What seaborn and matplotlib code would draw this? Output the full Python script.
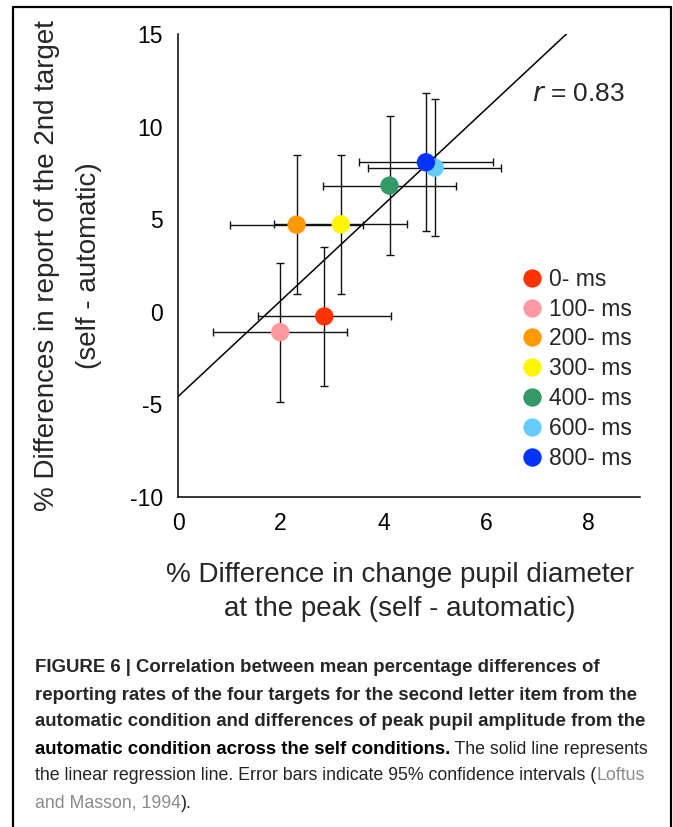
import numpy as np
import pandas as pd
import matplotlib.pyplot as plt
import seaborn as sns
from matplotlib.lines import Line2D

# values (self - automatic)
conditions = ['0- ms', '100- ms', '200- ms', '300- ms', '400- ms', '600- ms', '800- ms']
pupil_diff = [2.85, 1.99, 2.31, 3.17, 4.12, 5.00, 4.83]
report_diff = [-0.25, -1.10, 4.70, 4.72, 6.81, 7.78, 8.07]
pupil_ci = [1.30, 1.30, 1.30, 1.30, 1.30, 1.30, 1.30]
report_ci = [3.75, 3.75, 3.75, 3.75, 3.75, 3.70, 3.72]
colors = ['#FF3300', '#FF99A0', '#FF9900', '#FFF500', '#339966', '#66CCFF', '#0033FF']
r_reported = 0.83

data = pd.DataFrame({'condition': conditions, 'pupil': pupil_diff, 'report': report_diff,
                     'pupil_ci': pupil_ci, 'report_ci': report_ci})

sns.set_style('white')
plt.rcParams['font.family'] = ['Liberation Sans', 'DejaVu Sans']
plt.rcParams['axes.unicode_minus'] = False

fig = plt.figure(figsize=(6.73, 8.27), dpi=100)
ax = fig.add_axes([0.2645, 0.399, 0.6865, 0.5600])
ax.set_xlim(0, 9)
ax.set_ylim(-10, 15)

# regression line across the whole axis
sns.regplot(data=data, x='pupil', y='report', scatter=False, ci=None, truncate=False,
            line_kws={'color': 'black', 'lw': 1.1}, ax=ax)

# error bars
ax.errorbar(data['pupil'], data['report'], xerr=data['pupil_ci'], yerr=data['report_ci'],
            fmt='none', ecolor='#111111', elinewidth=1.0, capsize=3, capthick=1.0, zorder=3)

sns.scatterplot(data=data, x='pupil', y='report', hue='condition', palette=colors,
                s=175, edgecolor='none', linewidth=0, ax=ax, zorder=4, legend=True)

ax.set_xlim(0, 9)
ax.set_ylim(-10, 15)
ax.set_xticks([0, 2, 4, 6, 8])
ax.set_yticks([-10, -5, 0, 5, 10, 15])
ax.tick_params(direction='in', length=4, width=1, colors='black', labelsize=16.5)
ax.tick_params(axis='x', pad=11)
ax.tick_params(axis='y', pad=11)
for side in ['top', 'right']:
    ax.spines[side].set_visible(False)
for side in ['left', 'bottom']:
    ax.spines[side].set_color('black')
    ax.spines[side].set_linewidth(1.1)

ax.set_xlabel('% Difference in change pupil diameter\nat the peak (self - automatic)',
              fontsize=20, labelpad=19, linespacing=1.4)
ax.xaxis.label.set_x(0.48)
ax.set_ylabel('% Differences in report of the 2nd target\n(self - automatic)',
              fontsize=20, labelpad=20, linespacing=1.8)

ax.text(6.89, 11.75, f'$r$ = {r_reported:.2f}', fontsize=19, va='center', ha='left')

leg = ax.legend(loc='upper left', bbox_to_anchor=(0.717, 0.52), frameon=False,
                fontsize=16.5, handlelength=1.0, handletextpad=0.25, labelspacing=0.30,
                borderpad=0)
for h in leg.legend_handles:
    h.set_markersize(np.sqrt(175))

# frame around the figure panel (open at the bottom)
fig.add_artist(Line2D([13 / 673, 13 / 673, 671 / 673, 671 / 673], [0, 1 - 7 / 827, 1 - 7 / 827, 0],
                      transform=fig.transFigure, color='black', lw=1.6))

# caption
cap_font = ['Liberation Sans Narrow', 'Liberation Sans', 'DejaVu Sans']
bold_size = 13.4
norm_size = 12.8
x0 = 35 / 673
bold_lines = ['FIGURE 6 | Correlation between mean percentage differences of',
              'reporting rates of the four targets for the second letter item from the',
              'automatic condition and differences of peak pupil amplitude from the']
line_y = [668, 695, 722, 749, 776, 803]
for txt, yy in zip(bold_lines, line_y):
    fig.text(x0, 1 - yy / 827, txt, fontsize=bold_size, fontweight='bold', family=cap_font,
             va='center', ha='left')


def chain(pieces, yy):
    prev = None
    for txt, weight, col in pieces:
        size = bold_size if weight == 'bold' else norm_size
        if prev is None:
            prev = fig.text(x0, 1 - yy / 827, txt, fontsize=size, fontweight=weight,
                            family=cap_font, color=col, va='center', ha='left')
        else:
            prev = ax.annotate(txt, xy=(1, 0.5), xycoords=prev, fontsize=size,
                               fontweight=weight, family=cap_font, color=col,
                               va='center', ha='left', annotation_clip=False)


chain([('automatic condition across the self conditions.', 'bold', 'black'),
       (' The solid line represents', 'normal', '#222222')], line_y[3])
chain([('the linear regression line. Error bars indicate 95% confidence intervals (', 'normal', '#222222'),
       ('Loftus', 'normal', '#8a8a8a')], line_y[4])
chain([('and Masson, 1994', 'normal', '#8a8a8a'), (').', 'normal', '#222222')], line_y[5])

fig.savefig('out.png', dpi=100)
